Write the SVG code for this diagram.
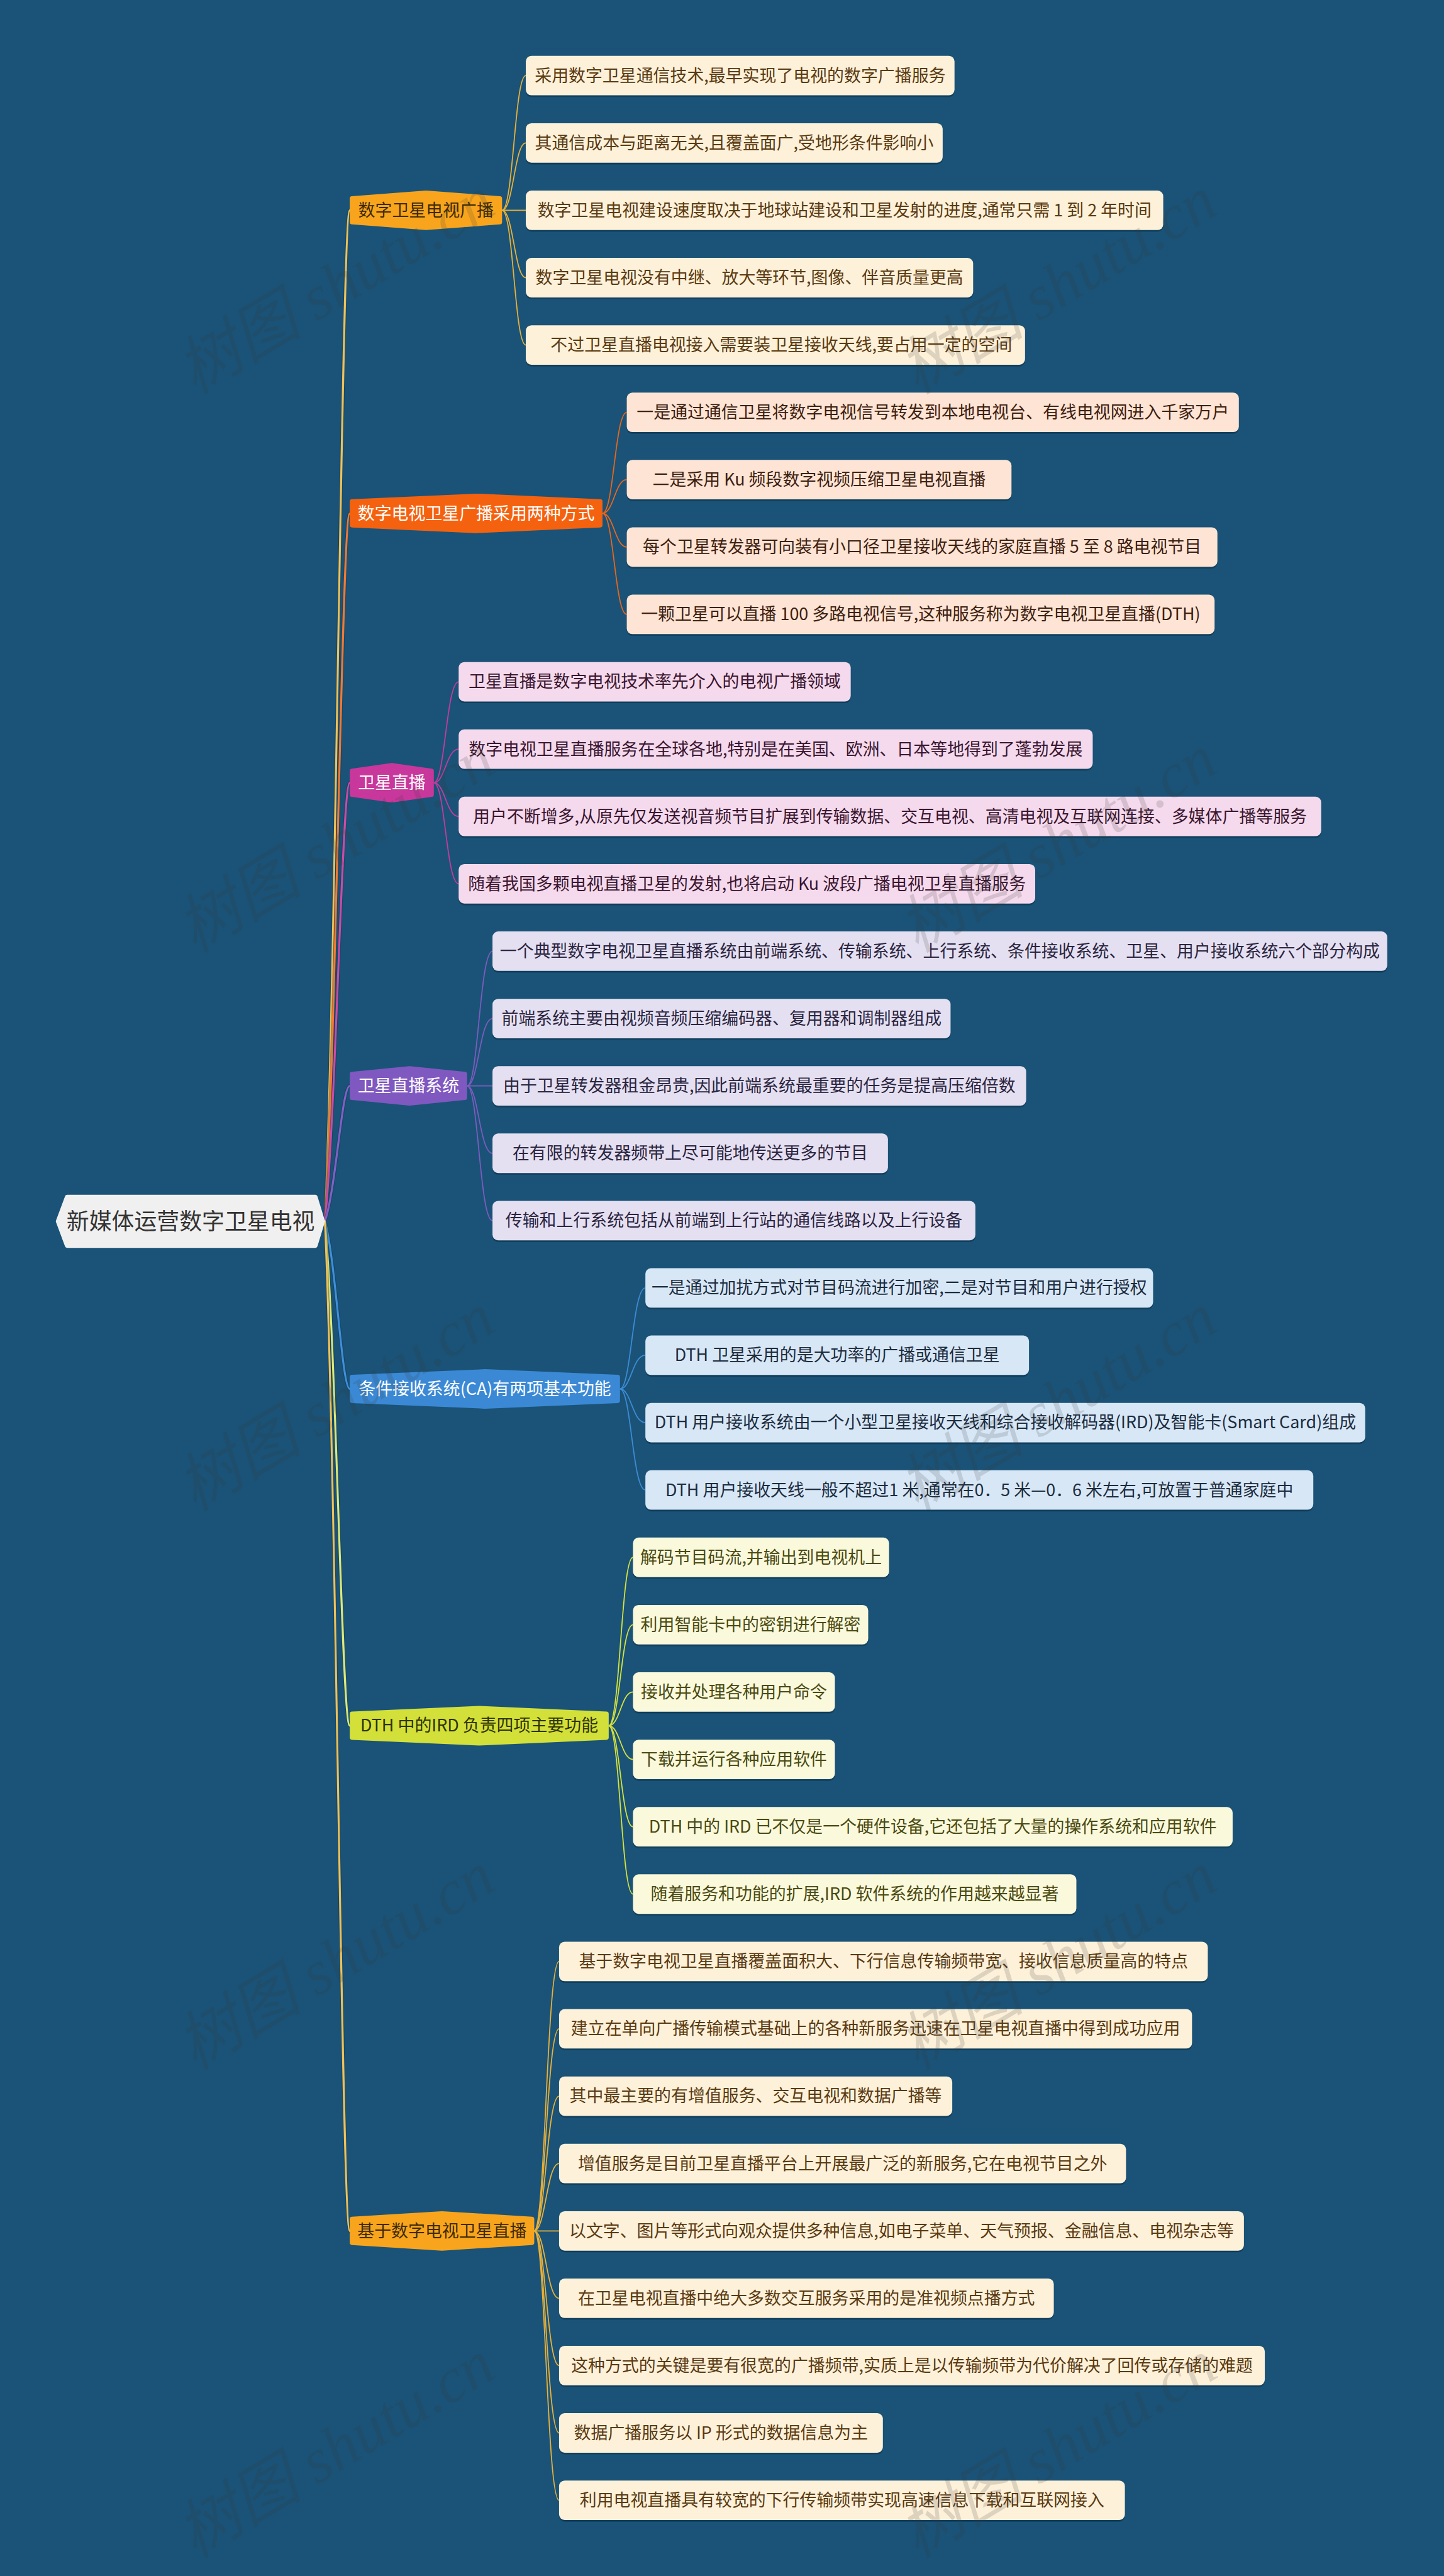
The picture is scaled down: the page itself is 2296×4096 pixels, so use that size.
<svg xmlns="http://www.w3.org/2000/svg" width="2296" height="4096" viewBox="0 0 2296 4096">
<style>
text{font-family:"Noto Sans CJK SC","Noto Sans",sans-serif;text-anchor:middle}
.lt{font-size:30px}
.bt{font-size:30px}
.rt{font-size:40px;fill:#333}
.sh{fill:#0b3048;opacity:.55}
.hex{stroke-width:8;stroke-linejoin:round}
.rc{fill:none;stroke-width:3.5;stroke-linecap:round}
.rco{fill:none;stroke:#0d3049;stroke-width:6;opacity:.35}
.lc{fill:none;stroke-width:2}
.s1 rect.b{fill:#fdf1d9}.s1 text{fill:#5a3a12}
.s2 rect.b{fill:#fde4d4}.s2 text{fill:#3d2010}
.s3 rect.b{fill:#f4daec}.s3 text{fill:#3a1530}
.s4 rect.b{fill:#e5e0f1}.s4 text{fill:#2a2540}
.s5 rect.b{fill:#d7e7f6}.s5 text{fill:#1c2c3e}
.s6 rect.b{fill:#fbf9dc}.s6 text{fill:#4a4a12}
.s7 rect.b{fill:#fdf1d9}.s7 text{fill:#5a3a12}
.wm{font-family:"Liberation Serif","Noto Sans CJK SC",serif;font-style:italic;font-size:112px;fill:#3a3a3a;opacity:.16;text-anchor:start}
</style>
<rect width="2296" height="4096" fill="#1a5377"/>
<g transform="scale(0.897)">

<g id="connectors">
<g id="root-connectors">
<path class="rco" d="M576,2165 C596,1717 606,372.8 620,372.8"/>
<path class="rc" stroke="#edc15a" d="M576,2165 C596,1717 606,372.8 620,372.8"/>
<path class="rco" d="M576,2165 C596,1851 606,910 620,910"/>
<path class="rc" stroke="#ef7a36" d="M576,2165 C596,1851 606,910 620,910"/>
<path class="rco" d="M576,2165 C596,1971 606,1387.6 620,1387.6"/>
<path class="rc" stroke="#c94ca5" d="M576,2165 C596,1971 606,1387.6 620,1387.6"/>
<path class="rco" d="M576,2165 C596,2105 606,1924.9 620,1924.9"/>
<path class="rc" stroke="#8360c4" d="M576,2165 C596,2105 606,1924.9 620,1924.9"/>
<path class="rco" d="M576,2165 C596,2239 606,2462.1 620,2462.1"/>
<path class="rc" stroke="#3f8fda" d="M576,2165 C596,2239 606,2462.1 620,2462.1"/>
<path class="rco" d="M576,2165 C596,2388 606,3059.1 620,3059.1"/>
<path class="rc" stroke="#dbe87a" d="M576,2165 C596,2388 606,3059.1 620,3059.1"/>
<path class="rco" d="M576,2165 C596,2612 606,3954.6 620,3954.6"/>
<path class="rc" stroke="#edc15a" d="M576,2165 C596,2612 606,3954.6 620,3954.6"/>
</g>
<g id="leaf-connectors-1" class="lc" stroke="#e9b13a">
<path d="M890,372.8 C910,372.8 912,134 932,134"/>
<path d="M890,372.8 C910,372.8 912,253.4 932,253.4"/>
<path d="M890,372.8 L932,372.8"/>
<path d="M890,372.8 C910,372.8 912,492.2 932,492.2"/>
<path d="M890,372.8 C910,372.8 912,611.6 932,611.6"/>
</g>
<g id="leaf-connectors-2" class="lc" stroke="#e8661c">
<path d="M1068,910 C1088,910 1090,731 1111,731"/>
<path d="M1068,910 C1088,910 1090,850.3 1111,850.3"/>
<path d="M1068,910 C1088,910 1090,969.7 1111,969.7"/>
<path d="M1068,910 C1088,910 1090,1089.1 1111,1089.1"/>
</g>
<g id="leaf-connectors-3" class="lc" stroke="#c43c9c">
<path d="M769,1387.6 C789,1387.6 791,1208.5 813,1208.5"/>
<path d="M769,1387.6 C789,1387.6 791,1327.9 813,1327.9"/>
<path d="M769,1387.6 C789,1387.6 791,1447.3 813,1447.3"/>
<path d="M769,1387.6 C789,1387.6 791,1566.7 813,1566.7"/>
</g>
<g id="leaf-connectors-4" class="lc" stroke="#7e5bbf">
<path d="M828,1924.9 C848,1924.9 850,1686.1 873,1686.1"/>
<path d="M828,1924.9 C848,1924.9 850,1805.5 873,1805.5"/>
<path d="M828,1924.9 L873,1924.9"/>
<path d="M828,1924.9 C848,1924.9 850,2044.3 873,2044.3"/>
<path d="M828,1924.9 C848,1924.9 850,2163.7 873,2163.7"/>
</g>
<g id="leaf-connectors-5" class="lc" stroke="#3d8bd6">
<path d="M1099,2462.1 C1119,2462.1 1121,2283.1 1144,2283.1"/>
<path d="M1099,2462.1 C1119,2462.1 1121,2402.4 1144,2402.4"/>
<path d="M1099,2462.1 C1119,2462.1 1121,2521.8 1144,2521.8"/>
<path d="M1099,2462.1 C1119,2462.1 1121,2641.2 1144,2641.2"/>
</g>
<g id="leaf-connectors-6" class="lc" stroke="#d5e23e">
<path d="M1079,3059.1 C1099,3059.1 1101,2760.6 1122,2760.6"/>
<path d="M1079,3059.1 C1099,3059.1 1101,2880 1122,2880"/>
<path d="M1079,3059.1 C1099,3059.1 1101,2999.4 1122,2999.4"/>
<path d="M1079,3059.1 C1099,3059.1 1101,3118.8 1122,3118.8"/>
<path d="M1079,3059.1 C1099,3059.1 1101,3238.2 1122,3238.2"/>
<path d="M1079,3059.1 C1099,3059.1 1101,3357.6 1122,3357.6"/>
</g>
<g id="leaf-connectors-7" class="lc" stroke="#e9b13a">
<path d="M947,3954.6 C967,3954.6 969,3477 991,3477"/>
<path d="M947,3954.6 C967,3954.6 969,3596.4 991,3596.4"/>
<path d="M947,3954.6 C967,3954.6 969,3715.8 991,3715.8"/>
<path d="M947,3954.6 C967,3954.6 969,3835.2 991,3835.2"/>
<path d="M947,3954.6 L991,3954.6"/>
<path d="M947,3954.6 C967,3954.6 969,4074 991,4074"/>
<path d="M947,3954.6 C967,3954.6 969,4193.3 991,4193.3"/>
<path d="M947,3954.6 C967,3954.6 969,4312.7 991,4312.7"/>
<path d="M947,3954.6 C967,3954.6 969,4432.1 991,4432.1"/>
</g>
</g>

<g id="root">
<path d="M103,2165 L119,2122 L559,2122 L572,2165 L559,2208 L119,2208 Z" fill="#f0f0f0" stroke="#f0f0f0" class="hex"/>
<text class="rt" x="338" y="2179">新媒体运营数字卫星电视</text>
</g>

<g id="b1"><path class="hex" fill="#f8a51d" stroke="#f8a51d" d="M624,351.8 L755,341.8 L886,351.8 L886,393.8 L755,403.8 L624,393.8Z"/><text class="bt" x="755" y="383.3" fill="#3d2a05">数字卫星电视广播</text></g>
<g id="b2"><path class="hex" fill="#f5620f" stroke="#f5620f" d="M624,889 L844,879 L1064,889 L1064,931 L844,941 L624,931Z"/><text class="bt" x="844" y="920.5" fill="#ffffff">数字电视卫星广播采用两种方式</text></g>
<g id="b3"><path class="hex" fill="#c8379b" stroke="#c8379b" d="M624,1366.6 L694.5,1356.6 L765,1366.6 L765,1408.6 L694.5,1418.6 L624,1408.6Z"/><text class="bt" x="694.5" y="1398.1" fill="#ffffff">卫星直播</text></g>
<g id="b4"><path class="hex" fill="#7f58c0" stroke="#7f58c0" d="M624,1903.9 L726,1893.9 L824,1903.9 L824,1945.9 L726,1955.9 L624,1945.9Z"/><text class="bt" x="724" y="1935.4" fill="#ffffff">卫星直播系统</text></g>
<g id="b5"><path class="hex" fill="#3b89d5" stroke="#3b89d5" d="M624,2441.1 L859.5,2431.1 L1095,2441.1 L1095,2483.1 L859.5,2493.1 L624,2483.1Z"/><text class="bt" x="859.5" y="2472.6" fill="#ffffff">条件接收系统(CA)有两项基本功能</text></g>
<g id="b6"><path class="hex" fill="#d3e03a" stroke="#d3e03a" d="M624,3038.1 L849.5,3028.1 L1075,3038.1 L1075,3080.1 L849.5,3090.1 L624,3080.1Z"/><text class="bt" x="849.5" y="3069.6" fill="#2f3300">DTH 中的IRD 负责四项主要功能</text></g>
<g id="b7"><path class="hex" fill="#f8a51d" stroke="#f8a51d" d="M624,3933.6 L783.5,3923.6 L943,3933.6 L943,3975.6 L783.5,3985.6 L624,3975.6Z"/><text class="bt" x="783.5" y="3965.1" fill="#3d2a05">基于数字电视卫星直播</text></g>

<g class="s1">
<g id="n0"><rect class="sh" x="932" y="102" width="760" height="70" rx="10"/><rect class="b" x="932" y="99" width="760" height="70" rx="10"/><text class="lt" x="1312" y="144.5">采用数字卫星通信技术,最早实现了电视的数字广播服务</text></g>
<g id="n1"><rect class="sh" x="932" y="221.4" width="739" height="70" rx="10"/><rect class="b" x="932" y="218.4" width="739" height="70" rx="10"/><text class="lt" x="1301.5" y="263.9">其通信成本与距离无关,且覆盖面广,受地形条件影响小</text></g>
<g id="n2"><rect class="sh" x="932" y="340.8" width="1130" height="70" rx="10"/><rect class="b" x="932" y="337.8" width="1130" height="70" rx="10"/><text class="lt" x="1497" y="383.3">数字卫星电视建设速度取决于地球站建设和卫星发射的进度,通常只需 1 到 2 年时间</text></g>
<g id="n3"><rect class="sh" x="932" y="460.2" width="793" height="70" rx="10"/><rect class="b" x="932" y="457.2" width="793" height="70" rx="10"/><text class="lt" x="1328.5" y="502.7">数字卫星电视没有中继、放大等环节,图像、伴音质量更高</text></g>
<g id="n4"><rect class="sh" x="932" y="579.6" width="885" height="70" rx="10"/><rect class="b" x="932" y="576.6" width="885" height="70" rx="10"/><text class="lt" x="1385" y="622.1">不过卫星直播电视接入需要装卫星接收天线,要占用一定的空间</text></g>
</g>

<g class="s2">
<g id="n5"><rect class="sh" x="1111" y="699" width="1085" height="70" rx="10"/><rect class="b" x="1111" y="696" width="1085" height="70" rx="10"/><text class="lt" x="1653.5" y="741.5">一是通过通信卫星将数字电视信号转发到本地电视台、有线电视网进入千家万户</text></g>
<g id="n6"><rect class="sh" x="1111" y="818.3" width="682" height="70" rx="10"/><rect class="b" x="1111" y="815.3" width="682" height="70" rx="10"/><text class="lt" x="1452" y="860.8">二是采用 Ku 频段数字视频压缩卫星电视直播</text></g>
<g id="n7"><rect class="sh" x="1111" y="937.7" width="1047" height="70" rx="10"/><rect class="b" x="1111" y="934.7" width="1047" height="70" rx="10"/><text class="lt" x="1634.5" y="980.2">每个卫星转发器可向装有小口径卫星接收天线的家庭直播 5 至 8 路电视节目</text></g>
<g id="n8"><rect class="sh" x="1111" y="1057.1" width="1042" height="70" rx="10"/><rect class="b" x="1111" y="1054.1" width="1042" height="70" rx="10"/><text class="lt" x="1632" y="1099.6">一颗卫星可以直播 100 多路电视信号,这种服务称为数字电视卫星直播(DTH)</text></g>
</g>

<g class="s3">
<g id="n9"><rect class="sh" x="813" y="1176.5" width="695" height="70" rx="10"/><rect class="b" x="813" y="1173.5" width="695" height="70" rx="10"/><text class="lt" x="1160.5" y="1219">卫星直播是数字电视技术率先介入的电视广播领域</text></g>
<g id="n10"><rect class="sh" x="813" y="1295.9" width="1124" height="70" rx="10"/><rect class="b" x="813" y="1292.9" width="1124" height="70" rx="10"/><text class="lt" x="1375" y="1338.4">数字电视卫星直播服务在全球各地,特别是在美国、欧洲、日本等地得到了蓬勃发展</text></g>
<g id="n11"><rect class="sh" x="813" y="1415.3" width="1529" height="70" rx="10"/><rect class="b" x="813" y="1412.3" width="1529" height="70" rx="10"/><text class="lt" x="1577.5" y="1457.8">用户不断增多,从原先仅发送视音频节目扩展到传输数据、交互电视、高清电视及互联网连接、多媒体广播等服务</text></g>
<g id="n12"><rect class="sh" x="813" y="1534.7" width="1022" height="70" rx="10"/><rect class="b" x="813" y="1531.7" width="1022" height="70" rx="10"/><text class="lt" x="1324" y="1577.2">随着我国多颗电视直播卫星的发射,也将启动 Ku 波段广播电视卫星直播服务</text></g>
</g>

<g class="s4">
<g id="n13"><rect class="sh" x="873" y="1654.1" width="1586" height="70" rx="10"/><rect class="b" x="873" y="1651.1" width="1586" height="70" rx="10"/><text class="lt" x="1666" y="1696.6">一个典型数字电视卫星直播系统由前端系统、传输系统、上行系统、条件接收系统、卫星、用户接收系统六个部分构成</text></g>
<g id="n14"><rect class="sh" x="873" y="1773.5" width="812" height="70" rx="10"/><rect class="b" x="873" y="1770.5" width="812" height="70" rx="10"/><text class="lt" x="1279" y="1816">前端系统主要由视频音频压缩编码器、复用器和调制器组成</text></g>
<g id="n15"><rect class="sh" x="873" y="1892.9" width="946" height="70" rx="10"/><rect class="b" x="873" y="1889.9" width="946" height="70" rx="10"/><text class="lt" x="1346" y="1935.4">由于卫星转发器租金昂贵,因此前端系统最重要的任务是提高压缩倍数</text></g>
<g id="n16"><rect class="sh" x="873" y="2012.3" width="701" height="70" rx="10"/><rect class="b" x="873" y="2009.3" width="701" height="70" rx="10"/><text class="lt" x="1223.5" y="2054.8">在有限的转发器频带上尽可能地传送更多的节目</text></g>
<g id="n17"><rect class="sh" x="873" y="2131.7" width="856" height="70" rx="10"/><rect class="b" x="873" y="2128.7" width="856" height="70" rx="10"/><text class="lt" x="1301" y="2174.2">传输和上行系统包括从前端到上行站的通信线路以及上行设备</text></g>
</g>

<g class="s5">
<g id="n18"><rect class="sh" x="1144" y="2251.1" width="900" height="70" rx="10"/><rect class="b" x="1144" y="2248.1" width="900" height="70" rx="10"/><text class="lt" x="1594" y="2293.6">一是通过加扰方式对节目码流进行加密,二是对节目和用户进行授权</text></g>
<g id="n19"><rect class="sh" x="1144" y="2370.4" width="680" height="70" rx="10"/><rect class="b" x="1144" y="2367.4" width="680" height="70" rx="10"/><text class="lt" x="1484" y="2412.9">DTH 卫星采用的是大功率的广播或通信卫星</text></g>
<g id="n20"><rect class="sh" x="1144" y="2489.8" width="1276" height="70" rx="10"/><rect class="b" x="1144" y="2486.8" width="1276" height="70" rx="10"/><text class="lt" x="1782" y="2532.3">DTH 用户接收系统由一个小型卫星接收天线和综合接收解码器(IRD)及智能卡(Smart Card)组成</text></g>
<g id="n21"><rect class="sh" x="1144" y="2609.2" width="1184" height="70" rx="10"/><rect class="b" x="1144" y="2606.2" width="1184" height="70" rx="10"/><text class="lt" x="1736" y="2651.7">DTH 用户接收天线一般不超过1 米,通常在0．5 米—0．6 米左右,可放置于普通家庭中</text></g>
</g>

<g class="s6">
<g id="n22"><rect class="sh" x="1122" y="2728.6" width="454" height="70" rx="10"/><rect class="b" x="1122" y="2725.6" width="454" height="70" rx="10"/><text class="lt" x="1349" y="2771.1">解码节目码流,并输出到电视机上</text></g>
<g id="n23"><rect class="sh" x="1122" y="2848" width="417" height="70" rx="10"/><rect class="b" x="1122" y="2845" width="417" height="70" rx="10"/><text class="lt" x="1330.5" y="2890.5">利用智能卡中的密钥进行解密</text></g>
<g id="n24"><rect class="sh" x="1122" y="2967.4" width="358" height="70" rx="10"/><rect class="b" x="1122" y="2964.4" width="358" height="70" rx="10"/><text class="lt" x="1301" y="3009.9">接收并处理各种用户命令</text></g>
<g id="n25"><rect class="sh" x="1122" y="3086.8" width="358" height="70" rx="10"/><rect class="b" x="1122" y="3083.8" width="358" height="70" rx="10"/><text class="lt" x="1301" y="3129.3">下载并运行各种应用软件</text></g>
<g id="n26"><rect class="sh" x="1122" y="3206.2" width="1063" height="70" rx="10"/><rect class="b" x="1122" y="3203.2" width="1063" height="70" rx="10"/><text class="lt" x="1653.5" y="3248.7">DTH 中的 IRD 已不仅是一个硬件设备,它还包括了大量的操作系统和应用软件</text></g>
<g id="n27"><rect class="sh" x="1122" y="3325.6" width="786" height="70" rx="10"/><rect class="b" x="1122" y="3322.6" width="786" height="70" rx="10"/><text class="lt" x="1515" y="3368.1">随着服务和功能的扩展,IRD 软件系统的作用越来越显著</text></g>
</g>

<g class="s7">
<g id="n28"><rect class="sh" x="991" y="3445" width="1150" height="70" rx="10"/><rect class="b" x="991" y="3442" width="1150" height="70" rx="10"/><text class="lt" x="1566" y="3487.5">基于数字电视卫星直播覆盖面积大、下行信息传输频带宽、接收信息质量高的特点</text></g>
<g id="n29"><rect class="sh" x="991" y="3564.4" width="1122" height="70" rx="10"/><rect class="b" x="991" y="3561.4" width="1122" height="70" rx="10"/><text class="lt" x="1552" y="3606.9">建立在单向广播传输模式基础上的各种新服务迅速在卫星电视直播中得到成功应用</text></g>
<g id="n30"><rect class="sh" x="991" y="3683.8" width="697" height="70" rx="10"/><rect class="b" x="991" y="3680.8" width="697" height="70" rx="10"/><text class="lt" x="1339.5" y="3726.3">其中最主要的有增值服务、交互电视和数据广播等</text></g>
<g id="n31"><rect class="sh" x="991" y="3803.2" width="1005" height="70" rx="10"/><rect class="b" x="991" y="3800.2" width="1005" height="70" rx="10"/><text class="lt" x="1493.5" y="3845.7">增值服务是目前卫星直播平台上开展最广泛的新服务,它在电视节目之外</text></g>
<g id="n32"><rect class="sh" x="991" y="3922.6" width="1214" height="70" rx="10"/><rect class="b" x="991" y="3919.6" width="1214" height="70" rx="10"/><text class="lt" x="1598" y="3965.1">以文字、图片等形式向观众提供多种信息,如电子菜单、天气预报、金融信息、电视杂志等</text></g>
<g id="n33"><rect class="sh" x="991" y="4042" width="877" height="70" rx="10"/><rect class="b" x="991" y="4039" width="877" height="70" rx="10"/><text class="lt" x="1429.5" y="4084.5">在卫星电视直播中绝大多数交互服务采用的是准视频点播方式</text></g>
<g id="n34"><rect class="sh" x="991" y="4161.3" width="1251" height="70" rx="10"/><rect class="b" x="991" y="4158.3" width="1251" height="70" rx="10"/><text class="lt" x="1616.5" y="4203.8">这种方式的关键是要有很宽的广播频带,实质上是以传输频带为代价解决了回传或存储的难题</text></g>
<g id="n35"><rect class="sh" x="991" y="4280.7" width="574" height="70" rx="10"/><rect class="b" x="991" y="4277.7" width="574" height="70" rx="10"/><text class="lt" x="1278" y="4323.2">数据广播服务以 IP 形式的数据信息为主</text></g>
<g id="n36"><rect class="sh" x="991" y="4400.1" width="1003" height="70" rx="10"/><rect class="b" x="991" y="4397.1" width="1003" height="70" rx="10"/><text class="lt" x="1492.5" y="4442.6">利用电视直播具有较宽的下行传输频带实现高速信息下载和互联网接入</text></g>
</g>

<g id="watermark">
<text class="wm" transform="translate(345,700) rotate(-31)">树图 shutu.cn</text>
<text class="wm" transform="translate(1625,700) rotate(-31)">树图 shutu.cn</text>
<text class="wm" transform="translate(345,1690) rotate(-31)">树图 shutu.cn</text>
<text class="wm" transform="translate(1625,1690) rotate(-31)">树图 shutu.cn</text>
<text class="wm" transform="translate(345,2680) rotate(-31)">树图 shutu.cn</text>
<text class="wm" transform="translate(1625,2680) rotate(-31)">树图 shutu.cn</text>
<text class="wm" transform="translate(345,3670) rotate(-31)">树图 shutu.cn</text>
<text class="wm" transform="translate(1625,3670) rotate(-31)">树图 shutu.cn</text>
<text class="wm" transform="translate(345,4535) rotate(-31)">树图 shutu.cn</text>
<text class="wm" transform="translate(1625,4535) rotate(-31)">树图 shutu.cn</text>
</g>

</g>
</svg>
